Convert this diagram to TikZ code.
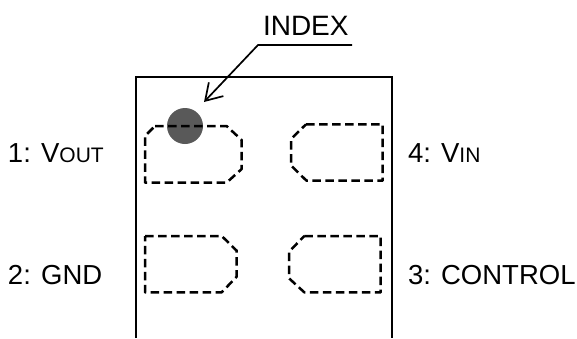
\documentclass[tikz,border=0pt]{standalone}
\usepackage{fontspec}
\setmainfont{Liberation Sans}
\usetikzlibrary{arrows.meta}
\newcommand{\lbl}{\fontsize{27.5}{30}\selectfont}
\newcommand{\idxf}{\fontsize{28}{30}\selectfont}
\newcommand{\sm}{\fontsize{21}{22}\selectfont}
\tikzset{
  x=1pt,y=-1pt,
  pad/.style={draw=black,line width=2.5pt,dash pattern=on 8.5pt off 4.5pt,line join=round},
  frame/.style={draw=black,line width=2.3pt,line join=miter},
  lab/.style={anchor=base west,inner sep=0pt,outer sep=0pt,text=black,font=\lbl},
  leader/.style={draw=black,line width=1.7pt,-{Straight Barb[length=16pt,width=20pt,line width=1.7pt]}},
}
\begin{document}
\begin{tikzpicture}
\useasboundingbox (0,0) rectangle (577,338);
\fill[white] (0,0) rectangle (577,338);
\draw[frame] (136,338) -- (136,77.2) -- (392,77.2) -- (392,338);
\node[circle,fill=black!65,minimum size=36pt,inner sep=0pt] (index) at (185,126) {};
\draw[pad] (155,126) -- (226.5,126) -- (241.7,140) -- (241.7,169) -- (226.5,182.7) -- (145,182.7) -- (145,136) -- cycle;
\draw[pad] (306,124.3) -- (382.7,124.3) -- (382.7,180.7) -- (306.5,180.7) -- (291,165.5) -- (291,139) -- cycle;
\draw[pad] (145,236) -- (221.7,236) -- (236.7,250.7) -- (236.7,276.7) -- (221.7,292.3) -- (145,292.3) -- cycle;
\draw[pad] (304.3,236) -- (380.7,236) -- (380.7,292.3) -- (304.3,292.3) -- (289,278.3) -- (289,251.7) -- cycle;
\node[lab,font=\idxf] (idx) at (263,35) {INDEX};
\coordinate (lineEnd) at (352,45);
\coordinate (knee) at (258,45);
\coordinate (tip) at (204,102);
\draw[leader] (lineEnd) -- (knee) -- (tip);
\node[lab] (p1) at (8,162) {1: V{\sm OUT}};
\node[lab] (p2) at (8,284) {2: GND};
\node[lab] (p3) at (408,284) {3: CONTROL};
\node[lab] (p4) at (408,162) {4: V{\sm IN}};
\end{tikzpicture}
\end{document}
